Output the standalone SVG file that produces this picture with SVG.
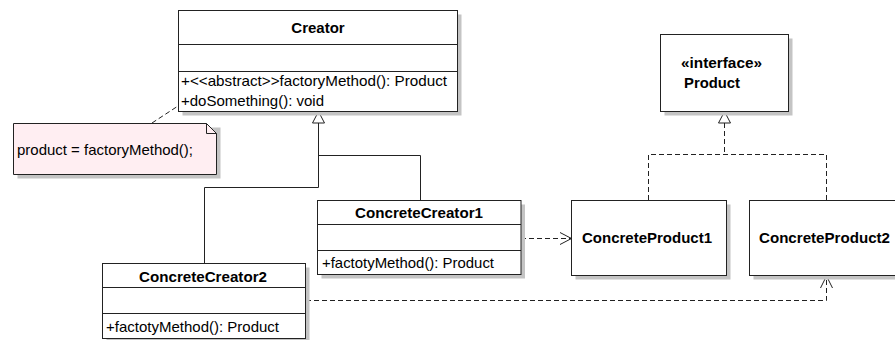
<svg xmlns="http://www.w3.org/2000/svg" width="895" height="340" viewBox="0 0 895 340">
  <style>
    .box { fill: #ffffff; stroke: #222222; stroke-width: 1; }
    .note { fill: #ffeef2; stroke: #222222; stroke-width: 1; }
    .shadow { fill: #c4c4c4; stroke: none; }
    .sep { stroke: #222222; stroke-width: 1; fill: none; }
    .line { stroke: #222222; stroke-width: 1; fill: none; }
    .dash { stroke: #222222; stroke-width: 1; fill: none; stroke-dasharray: 5 3; }
    .head { fill: #ffffff; stroke: #222222; stroke-width: 1; }
    text { font-family: "Liberation Sans", Arial, sans-serif; font-size: 15px; fill: #000000; }
    .title { font-weight: bold; }
  </style>

  <!-- connectors -->
  <g id="connectors">
    <!-- note anchor -->
    <line class="dash" x1="152" y1="123" x2="178" y2="106"/>
    <!-- generalization: ConcreteCreator1/2 -> Creator -->
    <polyline class="line" points="318.5,123 318.5,187.5 204.5,187.5 204.5,263"/>
    <polyline class="line" points="318.5,155.5 420.5,155.5 420.5,200"/>
    <polygon class="head" points="318.5,111.5 312.5,123 324.5,123"/>
    <!-- realization: ConcreteProduct1/2 -> Product -->
    <line class="dash" x1="724.5" y1="123" x2="724.5" y2="154.5"/>
    <polyline class="dash" points="648.5,200 648.5,154.5 826.5,154.5 826.5,200"/>
    <polygon class="head" points="724.5,111.5 718.5,123 730.5,123"/>
    <!-- dependency: ConcreteCreator1 -> ConcreteProduct1 -->
    <line class="dash" x1="521" y1="238.5" x2="571" y2="238.5"/>
    <polyline class="line" points="560,232.5 571.5,238.5 560,244.5"/>
    <circle cx="571.5" cy="238.5" r="1" fill="#222222"/>
    <!-- dependency: ConcreteCreator2 -> ConcreteProduct2 -->
    <polyline class="dash" points="306,300.5 826.5,300.5 826.5,277"/>
    <polyline class="line" points="820.5,288 826.5,276 832.5,288"/>
    <circle cx="826.5" cy="276" r="1" fill="#222222"/>
  </g>

  <!-- Creator -->
  <g id="creator">
    <rect class="shadow" x="182.5" y="14.5" width="279" height="101"/>
    <rect class="box" x="178.5" y="10.5" width="279" height="101"/>
    <line class="sep" x1="178.5" y1="44.5" x2="457.5" y2="44.5"/>
    <line class="sep" x1="178.5" y1="71.5" x2="457.5" y2="71.5"/>
    <text class="title" x="318" y="32.5" text-anchor="middle">Creator</text>
    <text x="181" y="85.5" textLength="266" lengthAdjust="spacingAndGlyphs">+&lt;&lt;abstract&gt;&gt;factoryMethod(): Product</text>
    <text x="181" y="105.5">+doSomething(): void</text>
  </g>

  <!-- note -->
  <g id="note">
    <path class="shadow" d="M17.5,127.5 H220.5 V178.5 H17.5 Z"/>
    <path class="note" d="M13.5,123.5 H206.5 L216.5,133.5 V174.5 H13.5 Z"/>
    <polyline class="line" points="206.5,123.5 206.5,133.5 216.5,133.5"/>
    <text x="17" y="155" textLength="176" lengthAdjust="spacingAndGlyphs">product = factoryMethod();</text>
  </g>

  <!-- ConcreteCreator1 -->
  <g id="concrete-creator-1">
    <rect class="shadow" x="321.5" y="204.5" width="203.5" height="74"/>
    <rect class="box" x="317.5" y="200.5" width="203.5" height="74"/>
    <line class="sep" x1="317.5" y1="224.5" x2="521" y2="224.5"/>
    <line class="sep" x1="317.5" y1="250.5" x2="521" y2="250.5"/>
    <text class="title" x="419" y="218" text-anchor="middle" textLength="128" lengthAdjust="spacingAndGlyphs">ConcreteCreator1</text>
    <text x="322" y="268" textLength="172" lengthAdjust="spacingAndGlyphs">+factotyMethod(): Product</text>
  </g>

  <!-- ConcreteCreator2 -->
  <g id="concrete-creator-2">
    <rect class="shadow" x="106.5" y="267.5" width="203" height="75"/>
    <rect class="box" x="102.5" y="263.5" width="203" height="75"/>
    <line class="sep" x1="102.5" y1="287.5" x2="305.5" y2="287.5"/>
    <line class="sep" x1="102.5" y1="313.5" x2="305.5" y2="313.5"/>
    <text class="title" x="203" y="281.5" text-anchor="middle" textLength="128" lengthAdjust="spacingAndGlyphs">ConcreteCreator2</text>
    <text x="106" y="331.5" textLength="173" lengthAdjust="spacingAndGlyphs">+factotyMethod(): Product</text>
  </g>

  <!-- Product -->
  <g id="product">
    <rect class="shadow" x="664.5" y="38.5" width="128" height="77"/>
    <rect class="box" x="660.5" y="34.5" width="128" height="77"/>
    <text class="title" x="681" y="68" textLength="81" lengthAdjust="spacingAndGlyphs">«interface»</text>
    <text class="title" x="684" y="88" textLength="56" lengthAdjust="spacingAndGlyphs">Product</text>
  </g>

  <!-- ConcreteProduct1 -->
  <g id="concrete-product-1">
    <rect class="shadow" x="575.5" y="204.5" width="155" height="75"/>
    <rect class="box" x="571.5" y="200.5" width="155" height="75"/>
    <text class="title" x="582" y="243" textLength="130" lengthAdjust="spacingAndGlyphs">ConcreteProduct1</text>
  </g>

  <!-- ConcreteProduct2 -->
  <g id="concrete-product-2">
    <rect class="shadow" x="753.5" y="204.5" width="160" height="75"/>
    <rect class="box" x="749.5" y="200.5" width="160" height="75"/>
    <text class="title" x="759" y="243" textLength="131" lengthAdjust="spacingAndGlyphs">ConcreteProduct2</text>
  </g>
</svg>
